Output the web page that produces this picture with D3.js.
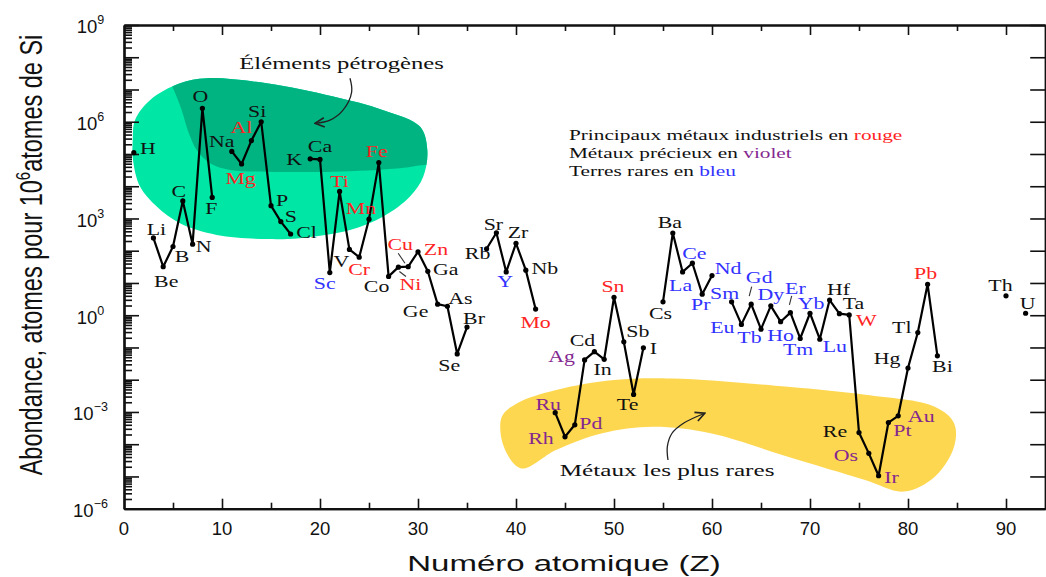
<!DOCTYPE html>
<html>
<head>
<meta charset="utf-8">
<script src="https://cdn.jsdelivr.net/npm/d3@7"></script>
<style>
  html, body { margin: 0; padding: 0; background: #ffffff; }
  svg { display: block; }
</style>
</head>
<body>
<svg id="chart" width="1046" height="577"></svg>
<script>
// ---- Data: crustal abundance (atoms per 10^6 atoms of Si) by atomic number ----
const symbols = ["H","Li","Be","B","C","N","O","F","Na","Mg","Al","Si","P","S","Cl",
  "K","Ca","Sc","Ti","V","Cr","Mn","Fe","Co","Ni","Cu","Zn","Ga","Ge","As","Se","Br",
  "Rb","Sr","Y","Zr","Nb","Mo","Ru","Rh","Pd","Ag","Cd","In","Sn","Sb","Te","I",
  "Cs","Ba","La","Ce","Pr","Nd","Sm","Eu","Gd","Tb","Dy","Ho","Er","Tm","Yb","Lu",
  "Hf","Ta","W","Re","Os","Ir","Pt","Au","Hg","Tl","Pb","Bi","Th","U"];
const atomicNumber = [1,3,4,5,6,7,8,9,11,12,13,14,15,16,17,
  19,20,21,22,23,24,25,26,27,28,29,30,31,32,33,34,35,
  37,38,39,40,41,42,44,45,46,47,48,49,50,51,52,53,
  55,56,57,58,59,60,62,63,64,65,66,67,68,69,70,71,
  72,73,74,75,76,77,78,79,80,81,82,83,90,92];
const abundance = [1.1e5,250,32,135,3.5e3,160,2.6e6,4.5e3,1.2e5,4.9e4,2.6e5,1e6,2.5e3,800,330,
  7.1e4,6.8e4,21,6.9e3,110,63,950,5.4e4,16,31,32,93,23,2.2,1.9,0.063,0.43,
  115,360,22,170,25,1.55,9.5e-4,1.7e-4,4.0e-4,0.041,0.074,0.043,3.6,0.15,3.5e-3,0.098,
  2.6,355,22,41,4.5,17,2.6,0.52,2.2,0.37,1.95,0.63,1.2,0.19,1.15,0.18,
  2.95,1.12,1.02,2.3e-4,5.2e-5,1.05e-5,4.7e-4,7.6e-4,0.023,0.29,9.1,0.055,4.0,1.15];

const industrialMetals = ["Mg","Al","Ti","Cr","Mn","Fe","Ni","Cu","Zn","Mo","Sn","W","Pb"];
const preciousMetals = ["Ru","Rh","Pd","Ag","Os","Ir","Pt","Au"];
const rareEarths = ["Sc","Y","La","Ce","Pr","Nd","Sm","Eu","Gd","Tb","Dy","Ho","Er","Tm","Yb","Lu"];

const xTickLabels = [0,10,20,30,40,50,60,70,80,90];
const yLabelExponents = [-6,-3,0,3,6,9];

// Shaded regions, as [atomic number, log10 abundance] outlines
const petrogenicOutline = [[1.12,6.05],[2.65,6.67],[5.71,7.19],[8.44,7.35],[14.56,7.19],[21.36,6.78],
  [26.46,6.36],[30.2,5.85],[30.95,5.12],[30.54,4.30],[29.18,3.68],[26.46,3.06],[23.06,2.64],
  [17.96,2.39],[14.56,2.36],[9.46,2.49],[5.71,2.85],[3.34,3.37],[1.63,3.99],[0.92,4.81],[0.89,5.43]];
const petrogenicCore = [[34.3,4.63],[30.71,4.66],[28.16,4.56],[21.33,4.45],[14.56,4.45],[10.82,4.50],
  [8.78,4.71],[7.42,5.12],[6.56,5.69],[5.89,6.36],[5.03,7.02],[4.18,7.6]];
const rarestOutline = [[38.55,-3.15],[40.13,-2.73],[44.08,-2.32],[50.0,-2.01],[55.91,-1.96],[67.74,-2.22],
  [75.63,-2.47],[82.73,-2.84],[84.7,-3.35],[84.7,-4.08],[82.73,-5.01],[79.58,-5.47],[75.63,-5.11],
  [67.74,-4.39],[59.86,-3.66],[53.94,-3.46],[48.81,-3.66],[44.08,-4.18],[40.53,-4.75],[38.76,-4.08]];
const petrogenicArrow = [[23.06,7.35],[23.23,6.92],[22.35,6.36],[21.02,6.05],[19.49,5.95]];
const rarestArrow = [[55.51,-4.49],[55.44,-4.08],[55.92,-3.66],[57.09,-3.35],[59.27,-3.04]];

// ---- Label placement (offset of each element label from its point, px) ----
const labelOffset = {
  H:[14,-5], Li:[3,-9], Be:[3,14], B:[9,10], C:[-4,-10], N:[11,1.5], O:[-2,-12], F:[-1,11],
  Na:[-10,-10], Mg:[-1,14], Al:[-10,-14], Si:[-4,-11], P:[11,-6], S:[10,-6], Cl:[16,-1.5],
  K:[-16,0], Ca:[0,-13], Sc:[-5,10], Ti:[0,-10], V:[-8,11.5], Cr:[0,11.5], Mn:[-8,-11],
  Fe:[-2,-11.5], Co:[-12,10], Ni:[12,17], Cu:[-8,-23], Zn:[18,-3], Ga:[18,-2.5], Ge:[-22,7],
  As:[13,-8], Se:[-8,11], Br:[7,-9], Rb:[-9,4], Sr:[-3,-8.5], Y:[-1,9.5], Zr:[2,-11],
  Nb:[19,-2], Mo:[0,13], Ru:[-7,-8.5], Rh:[-24,1], Pd:[16,-2], Ag:[-23,-4], Cd:[-12,-12],
  In:[-1.5,9.5], Sn:[-1,-11], Sb:[14,-10.5], Te:[-6,10], I:[10,0], Cs:[-2.5,11], Ba:[-3,-10.5],
  La:[-2,13], Ce:[2,-10], Pr:[-1.5,10], Nd:[16,-8], Sm:[-7,-9], Eu:[-19,2.5], Gd:[8,-27],
  Tb:[-11.5,8], Dy:[0,-12], Ho:[0,13], Er:[5,-25], Tm:[-2,11], Yb:[1,-10], Lu:[15,7],
  Hf:[9,-11.5], Ta:[14,-11], W:[17,5], Re:[-24,-2], Os:[-23,2], Ir:[13,1], Pt:[14,7.5],
  Au:[23,0], Hg:[-21,-10.5], Tl:[-16,-6], Pb:[-2,-11.5], Bi:[5,10], Th:[-5.5,-11], U:[2,-10]
};
// small leader strokes joining a few crowded labels to their points
const leaders = { Cu:[[-10,-13.4],[-3.2,-3.4]], Ni:[[1,4.4],[7.6,9.4]],
                  Gd:[[-2,-8],[0.5,-17.6]], Er:[[-1,-7.7],[1.3,-16.7]] };

const RED = "#ff2424", VIOLET = "#84288f", BLUE = "#3232ff";
const GREEN_LIGHT = "#00e7a5", GREEN_DARK = "#00b482", YELLOW = "#fdd74f";

// ---- Layout ----
const svg = d3.select("#chart");
const plot = { left: 124, right: 1045.2, top: 25, bottom: 508.7 };
const x = d3.scaleLinear().domain([0, 94]).range([plot.left, plot.right]);
const y = d3.scaleLog().domain([1e-6, 1e9]).range([plot.bottom, plot.top]);
const yl = v => y(Math.pow(10, v));          // position from a log10 value
const SANS = "'Liberation Sans', Arial, sans-serif";
const SERIF = "'Liberation Serif', 'Times New Roman', serif";

svg.append("rect").attr("width", 1046).attr("height", 577).attr("fill", "#fff");

const defs = svg.append("defs");
defs.append("marker").attr("id", "arrowHead")
  .attr("viewBox", "0 0 10 10").attr("refX", 9).attr("refY", 5)
  .attr("markerWidth", 9).attr("markerHeight", 9).attr("orient", "auto")
  .append("path").attr("d", "M1,1 L9,5 L1,9").attr("fill", "none")
  .attr("stroke", "#222").attr("stroke-width", 1.4);

const closedCurve = d3.line().x(d => x(d[0])).y(d => yl(d[1])).curve(d3.curveCatmullRomClosed.alpha(0.5));
const openCurve = d3.line().x(d => x(d[0])).y(d => yl(d[1])).curve(d3.curveCatmullRom.alpha(0.5));

// ---- Shaded regions ----
defs.append("clipPath").attr("id", "petroClip").append("path").attr("d", closedCurve(petrogenicOutline));
svg.append("path").attr("d", closedCurve(petrogenicOutline)).attr("fill", GREEN_LIGHT);
svg.append("path")
  .attr("d", openCurve(petrogenicCore) + `L${x(3.0)},${yl(8.2)}L${x(35)},${yl(8.2)}Z`)
  .attr("fill", GREEN_DARK).attr("clip-path", "url(#petroClip)");
svg.append("path").attr("d", closedCurve(rarestOutline)).attr("fill", YELLOW);

// ---- Axes ----
function styleAxis(g, w) {
  g.select(".domain").attr("stroke", "#111").attr("stroke-width", w);
  g.selectAll(".tick line").attr("stroke", "#111").attr("stroke-width", 1.6);
  g.selectAll(".tick text").remove();
}
const decades = d3.range(-6, 10).map(e => Math.pow(10, e));
const minorY = [];
d3.range(-6, 9).forEach(e => { for (let k = 2; k <= 9; k++) minorY.push(k * Math.pow(10, e)); });
const majorX = d3.range(10, 91, 10), minorX = d3.range(5, 91, 10);

// left
svg.append("g").attr("transform", `translate(${plot.left},0)`)
  .call(d3.axisRight(y).tickValues(minorY).tickSize(8).tickSizeOuter(0).tickFormat(""))
  .call(g => styleAxis(g, 2.2));
svg.append("g").attr("transform", `translate(${plot.left},0)`)
  .call(d3.axisRight(y).tickValues(decades).tickSize(15).tickSizeOuter(0).tickFormat(""))
  .call(g => styleAxis(g, 2.2));
// right
svg.append("g").attr("transform", `translate(${plot.right},0)`)
  .call(d3.axisLeft(y).tickValues(decades).tickSize(15).tickSizeOuter(0).tickFormat(""))
  .call(g => styleAxis(g, 2.2));
// bottom
svg.append("g").attr("transform", `translate(0,${plot.bottom})`)
  .call(d3.axisTop(x).tickValues(minorX).tickSize(6).tickSizeOuter(0).tickFormat(""))
  .call(g => styleAxis(g, 2.2));
svg.append("g").attr("transform", `translate(0,${plot.bottom})`)
  .call(d3.axisTop(x).tickValues(majorX).tickSize(10).tickSizeOuter(0).tickFormat(""))
  .call(g => styleAxis(g, 2.2));
// top
svg.append("g").attr("transform", `translate(0,${plot.top})`)
  .call(d3.axisBottom(x).tickValues(minorX).tickSize(6).tickSizeOuter(0).tickFormat(""))
  .call(g => styleAxis(g, 2.2));
svg.append("g").attr("transform", `translate(0,${plot.top})`)
  .call(d3.axisBottom(x).tickValues(majorX).tickSize(10).tickSizeOuter(0).tickFormat(""))
  .call(g => styleAxis(g, 2.2));

// tick labels
svg.append("g").selectAll("text").data(xTickLabels).join("text")
  .attr("x", d => x(d)).attr("y", plot.bottom + 26.5)
  .attr("text-anchor", "middle").attr("font-family", SANS).attr("font-size", 18.5)
  .attr("fill", "#111").text(d => d);

const yLab = svg.append("g").selectAll("text").data(yLabelExponents).join("text")
  .attr("x", 90.5).attr("y", d => yl(d) + 8.3)
  .attr("text-anchor", "middle").attr("font-family", SANS).attr("font-size", 18.5)
  .attr("fill", "#111");
yLab.append("tspan").text("10");
yLab.append("tspan").attr("dy", -9).attr("font-size", 12.5)
  .text(d => d < 0 ? "\u2212" + (-d) : String(d));

// axis titles
svg.append("text")
  .attr("transform", `translate(564,570.5) scale(1.5,1)`)
  .attr("text-anchor", "middle").attr("font-family", SANS).attr("font-size", 22)
  .attr("fill", "#111").text("Numéro atomique (Z)");
const yTitle = svg.append("text")
  .attr("transform", `translate(42,255) rotate(-90) scale(1,1.35)`)
  .attr("text-anchor", "middle").attr("font-family", SANS).attr("font-size", 23.5)
  .attr("fill", "#111");
yTitle.append("tspan").text("Abondance, atomes pour 10");
yTitle.append("tspan").attr("dy", -9).attr("font-size", 15).text("6");
yTitle.append("tspan").attr("dy", 9).text("atomes de Si");

// ---- Abundance curve ----
const points = symbols.map((s, i) => ({ sym: s, z: atomicNumber[i], v: abundance[i] }));
const runs = [];
points.forEach((p, i) => {
  if (i === 0 || p.z !== points[i - 1].z + 1) runs.push([]);
  runs[runs.length - 1].push(p);
});
const line = d3.line().x(d => x(d.z)).y(d => y(d.v));
svg.append("g").selectAll("path").data(runs.filter(r => r.length > 1)).join("path")
  .attr("d", line).attr("fill", "none").attr("stroke", "#000")
  .attr("stroke-width", 2.2).attr("stroke-linejoin", "round");
svg.append("g").selectAll("circle").data(points).join("circle")
  .attr("cx", d => x(d.z)).attr("cy", d => y(d.v)).attr("r", 2.6).attr("fill", "#000");

// leader strokes
svg.append("g").selectAll("line").data(Object.keys(leaders)).join("line")
  .attr("x1", s => { const p = points.find(q => q.sym === s); return x(p.z) + leaders[s][0][0]; })
  .attr("y1", s => { const p = points.find(q => q.sym === s); return y(p.v) + leaders[s][0][1]; })
  .attr("x2", s => { const p = points.find(q => q.sym === s); return x(p.z) + leaders[s][1][0]; })
  .attr("y2", s => { const p = points.find(q => q.sym === s); return y(p.v) + leaders[s][1][1]; })
  .attr("stroke", "#333").attr("stroke-width", 1.1);

// element labels
const labelColor = s => industrialMetals.includes(s) ? RED
  : preciousMetals.includes(s) ? VIOLET : rareEarths.includes(s) ? BLUE : "#111";
svg.append("g").selectAll("text").data(points).join("text")
  .attr("transform", d => {
    const o = labelOffset[d.sym] || [0, -10];
    return `translate(${x(d.z) + o[0]},${y(d.v) + o[1]}) scale(1.25,1)`;
  })
  .attr("dy", "0.34em").attr("text-anchor", "middle")
  .attr("font-family", SERIF).attr("font-size", 17.5)
  .attr("fill", d => labelColor(d.sym)).text(d => d.sym);

// ---- Annotations ----
svg.append("text")
  .attr("transform", `translate(${x(22.2)},${yl(7.64)}) scale(1.45,1)`)
  .attr("text-anchor", "middle").attr("font-family", SERIF).attr("font-size", 17)
  .attr("fill", "#111").text("Éléments pétrogènes");
svg.append("path").attr("d", openCurve(petrogenicArrow)).attr("fill", "none")
  .attr("stroke", "#222").attr("stroke-width", 1.3).attr("marker-end", "url(#arrowHead)");

svg.append("text")
  .attr("transform", `translate(${x(55.42)},${yl(-4.98)}) scale(1.44,1)`)
  .attr("text-anchor", "middle").attr("font-family", SERIF).attr("font-size", 17.5)
  .attr("fill", "#111").text("Métaux les plus rares");
svg.append("path").attr("d", openCurve(rarestArrow)).attr("fill", "none")
  .attr("stroke", "#222").attr("stroke-width", 1.3).attr("marker-end", "url(#arrowHead)");

// colour key
const keyLines = [
  { lead: "Principaux métaux industriels en ", word: "rouge", color: RED, at: 5.43 },
  { lead: "Métaux précieux en ", word: "violet", color: VIOLET, at: 4.88 },
  { lead: "Terres rares en ", word: "bleu", color: BLUE, at: 4.32 }
];
const key = svg.append("g").selectAll("text").data(keyLines).join("text")
  .attr("transform", d => `translate(${x(45.4)},${yl(d.at)}) scale(1.42,1)`)
  .attr("font-family", SERIF).attr("font-size", 15).attr("fill", "#111");
key.append("tspan").text(d => d.lead);
key.append("tspan").attr("fill", d => d.color).text(d => d.word);
</script>
</body>
</html>
